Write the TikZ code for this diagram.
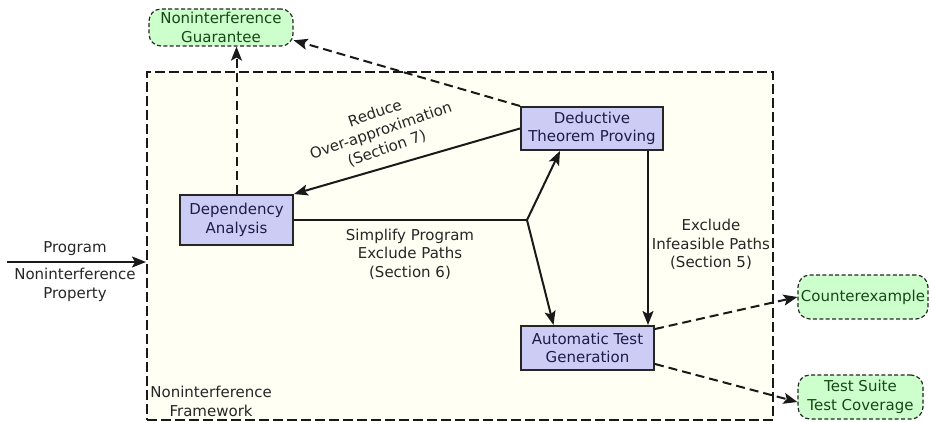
\documentclass[tikz,border=0pt]{standalone}
\usepackage{fontspec}
\setmainfont{DejaVu Sans}
\usetikzlibrary{arrows.meta}

\definecolor{toolfill}{RGB}{204,204,245}
\definecolor{toolink}{RGB}{28,28,72}
\definecolor{outfill}{RGB}{204,255,204}
\definecolor{outink}{RGB}{20,72,20}
\definecolor{framefill}{RGB}{255,255,244}

\begin{document}
\begin{tikzpicture}[x=0.5pt, y=-0.5pt, font=\fontsize{7.5}{9.2}\selectfont,
    tool/.style={rectangle, draw=black!85, line width=1pt, fill=toolfill, text=toolink, align=center, inner sep=0pt},
    outcome/.style={rectangle, rounded corners=6pt, draw=black!85, line width=0.6pt, dash pattern=on 2pt off 1.2pt, fill=outfill, text=outink, align=center, inner sep=0pt},
    flow/.style={draw=black!90, line width=1pt, -{Stealth[length=7pt, width=5.5pt, inset=1.5pt]}},
    dflow/.style={flow, dash pattern=on 4.5pt off 2.5pt},
    note/.style={align=center, text=black!85, inner sep=1pt}]
    \useasboundingbox (0,0) rectangle (932,422);

    \node (frame) at (460,246) [draw=black!90, line width=1pt, dash pattern=on 5pt off 2pt, fill=framefill, minimum width=313pt, minimum height=174pt] {};
    \node [anchor=south west, note, inner sep=2pt] at (frame.south west) {Noninterference\\Framework};

    \node (dep)  at (236.5,220) [tool, minimum width=56.5pt, minimum height=25pt] {Dependency\\Analysis};
    \node (ded)  at (592,128.5) [tool, minimum width=71pt, minimum height=21.5pt] {Deductive\\Theorem Proving};
    \node (auto) at (587.5,348) [tool, minimum width=66.5pt, minimum height=22pt] {Automatic Test\\Generation};

    \node (guar)    at (221,27.5) [outcome, minimum width=72pt, minimum height=18.5pt] {Noninterference\\Guarantee};
    \node (counter) at (863,297)  [outcome, minimum width=65pt, minimum height=22pt] {Counterexample};
    \node (suite)   at (860.5,397) [outcome, minimum width=62.5pt, minimum height=22pt] {Test Suite\\Test Coverage};

    \coordinate (fork) at (527,220);
    \coordinate (in) at (7,262);

    \draw [flow] (in) -- (in -| frame.west);
    \node (prog) at (75,249) [note] {Program};
    \node (prop) at (75,285) [note] {Noninterference\\Property};

    \draw [line width=1pt, draw=black!90] (dep.east) -- (fork);
    \draw [flow] (fork) -- ([xshift=-16pt]ded.south);
    \draw [flow] (fork) -- ([xshift=-17pt]auto.north);
    \draw [flow] (ded.west) -- (dep.north east);
    \draw [flow] ([xshift=-8pt]ded.south east) -- ([xshift=-8pt]ded.south east |- auto.north);

    \draw [dflow] (dep.north) -- (dep.north |- guar.south);
    \draw [dflow] (ded.north west) -- (guar.-10);
    \draw [dflow] ([yshift=-2pt]auto.north east) -- (counter.west);
    \draw [dflow] ([yshift=3.5pt]auto.south east) -- ([yshift=-2.5pt]suite.west);

    \node (sec7) at (381,131) [note, rotate=19] {Reduce\\Over-approximation\\(Section 7)};
    \node (sec6) at (410,254) [note] {Simplify Program\\Exclude Paths\\(Section 6)};
    \node (sec5) at (711,244.5) [note] {Exclude\\Infeasible Paths\\(Section 5)};
\end{tikzpicture}
\end{document}
